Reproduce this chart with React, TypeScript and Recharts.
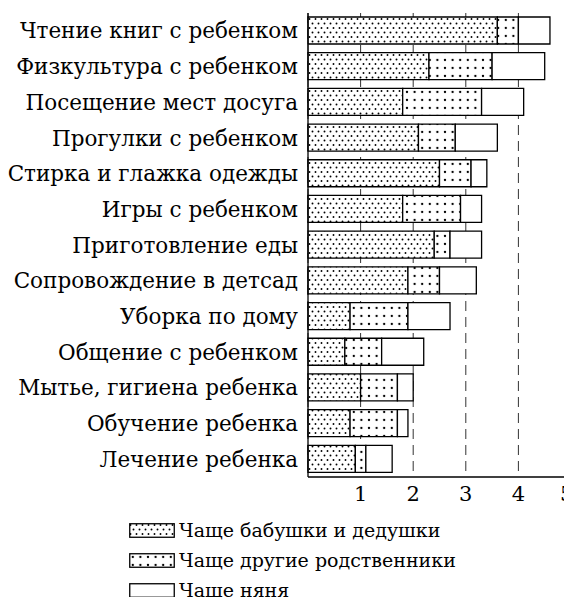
import React from "react";
import {
  BarChart,
  Bar,
  XAxis,
  YAxis,
  CartesianGrid,
  Legend,
} from "recharts";

const categories = [
  "Чтение книг с ребенком",
  "Физкультура с ребенком",
  "Посещение мест досуга",
  "Прогулки с ребенком",
  "Стирка и глажка одежды",
  "Игры с ребенком",
  "Приготовление еды",
  "Сопровождение в детсад",
  "Уборка по дому",
  "Общение с ребенком",
  "Мытье, гигиена ребенка",
  "Обучение ребенка",
  "Лечение ребенка",
];

const grandparents = [3.6, 2.3, 1.8, 2.1, 2.5, 1.8, 2.4, 1.9, 0.8, 0.7, 1.0, 0.8, 0.9];
const relatives = [0.4, 1.2, 1.5, 0.7, 0.6, 1.1, 0.3, 0.6, 1.1, 0.7, 0.7, 0.9, 0.2];
const nanny = [0.6, 1.0, 0.8, 0.8, 0.3, 0.4, 0.6, 0.7, 0.8, 0.8, 0.3, 0.2, 0.5];

const xTicks = [1, 2, 3, 4, 5];

const seriesNames = [
  "Чаще бабушки и дедушки",
  "Чаще другие родственники",
  "Чаще няня",
];
const seriesFills = ["url(#denseDots)", "url(#sparseDots)", "#ffffff"];

const FONT = "'DejaVu Serif', 'Liberation Serif', serif";

const data = categories.map((name, i) => ({
  name,
  grandparents: grandparents[i],
  relatives: relatives[i],
  nanny: nanny[i],
}));

// legend drawn by hand so the swatches can use the chart's patterns
const renderLegend = () => (
  <div style={{ paddingLeft: 121, paddingTop: 8, fontFamily: FONT, fontSize: 19 }}>
    {seriesNames.map((name, i) => (
      <div key={name} style={{ display: "flex", alignItems: "center", height: 30 }}>
        <svg width={46} height={15} style={{ marginRight: 4 }}>
          <rect x={0.75} y={0.75} width={44.5} height={13.5} fill={seriesFills[i]} stroke="#000" strokeWidth={1.3} />
        </svg>
        <span style={{ color: "#000" }}>{name}</span>
      </div>
    ))}
  </div>
);

export default function App() {
  return (
    <BarChart
      width={564}
      height={589}
      data={data}
      layout="vertical"
      margin={{ top: 5, right: 1, left: 0, bottom: 0 }}
      barSize={27}
    >
      <defs>
        <pattern id="denseDots" patternUnits="userSpaceOnUse" width={6} height={9}>
          <rect width={6} height={9} fill="#fff" />
          <circle cx={1.5} cy={2} r={0.95} fill="#000" />
          <circle cx={4.5} cy={6.5} r={0.95} fill="#000" />
        </pattern>
        <pattern id="sparseDots" patternUnits="userSpaceOnUse" width={7.6} height={8}>
          <rect width={7.6} height={8} fill="#fff" />
          <circle cx={3.8} cy={4} r={1.15} fill="#000" />
        </pattern>
      </defs>
      <CartesianGrid horizontal={false} vertical stroke="#333" strokeDasharray="10 6" />
      <XAxis
        type="number"
        domain={[0, 5]}
        ticks={xTicks}
        axisLine={{ stroke: "#000", strokeWidth: 1.3 }}
        tickLine={false}
        tickMargin={3}
        height={30}
        tick={{ fill: "#000", fontSize: 21, fontFamily: FONT }}
      />
      <YAxis
        type="category"
        dataKey="name"
        width={300}
        axisLine={{ stroke: "#000", strokeWidth: 1.3 }}
        tickLine={false}
        tickMargin={4}
        interval={0}
        tick={{ fill: "#000", fontSize: 21.5, fontFamily: FONT }}
      />
      <Legend
        layout="vertical"
        verticalAlign="bottom"
        align="center"
        content={renderLegend}
        wrapperStyle={{ height: 90, left: 0, width: 564 }}
      />
      <Bar dataKey="grandparents" stackId="a" fill={seriesFills[0]} stroke="#000" strokeWidth={1.3} isAnimationActive={false} />
      <Bar dataKey="relatives" stackId="a" fill={seriesFills[1]} stroke="#000" strokeWidth={1.3} isAnimationActive={false} />
      <Bar dataKey="nanny" stackId="a" fill={seriesFills[2]} stroke="#000" strokeWidth={1.3} isAnimationActive={false} />
    </BarChart>
  );
}
